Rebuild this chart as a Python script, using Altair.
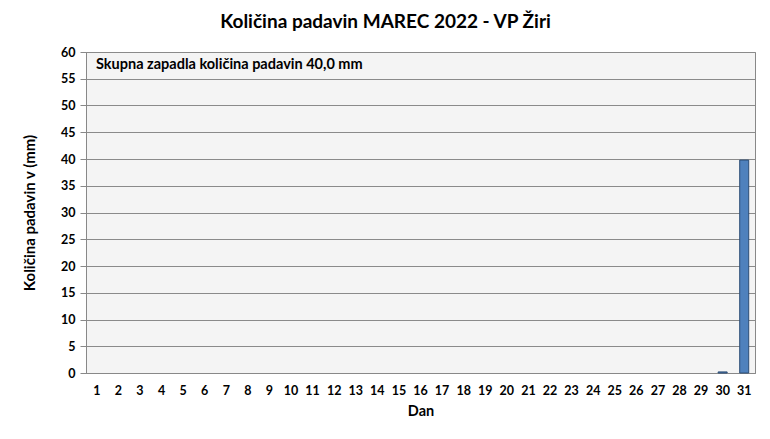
import altair as alt
import pandas as pd

days = list(range(1, 32))
rain = [0.0] * 29 + [0.2, 39.8]
y_ticks = list(range(0, 61, 5))

df = pd.DataFrame({"dan": days, "mm": rain})

FONT = "Lato"

base = alt.Chart(df)

bars = base.mark_bar(size=9, color="#4f81bd", stroke="#2c4d75", strokeWidth=1).encode(
    x=alt.X("dan:O", scale=alt.Scale(domain=days, paddingInner=0, paddingOuter=0),
            axis=alt.Axis(title="Dan", labelAngle=0, ticks=False, domain=True,
                          domainColor="#888888", labelPadding=11, titlePadding=8,
                          labelFontSize=12.5, titleFontSize=14.5)),
    y=alt.Y("mm:Q", scale=alt.Scale(domain=[0, 60], nice=False),
            axis=alt.Axis(title="Količina padavin v  (mm)", values=y_ticks,
                          tickSize=6, tickColor="#888888", domainColor="#888888",
                          gridColor="#8a8a8a", labelPadding=5, titlePadding=23,
                          labelFontSize=12.5, titleFontSize=15)),
).transform_filter("datum.mm > 0")

note = alt.Chart(pd.DataFrame({"t": ["Skupna zapadla količina padavin 40,0 mm"]})).mark_text(
    align="left", baseline="middle", font=FONT, fontSize=14.5, fontWeight="bold", color="#000000"
).encode(x=alt.value(10), y=alt.value(13), text="t:N")

chart = alt.layer(bars, note).properties(
    width=669, height=321,
    background="white",
    autosize=alt.AutoSizeParams(type="none"),
    padding={"left": 78, "top": 44, "right": 7, "bottom": 58},
    title=alt.Title("Količina padavin MAREC 2022 - VP Žiri", fontSize=19, font=FONT,
                    fontWeight="bold", color="#000000", offset=14, dx=-35),
).configure_view(fill="#f4f4f4", stroke="#888888").configure_axis(
    labelFont=FONT, titleFont=FONT, labelFontWeight="bold", titleFontWeight="bold",
    labelColor="#000000", titleColor="#000000"
)

chart.save("out.html", embed_options={"renderer": "svg", "actions": False})
